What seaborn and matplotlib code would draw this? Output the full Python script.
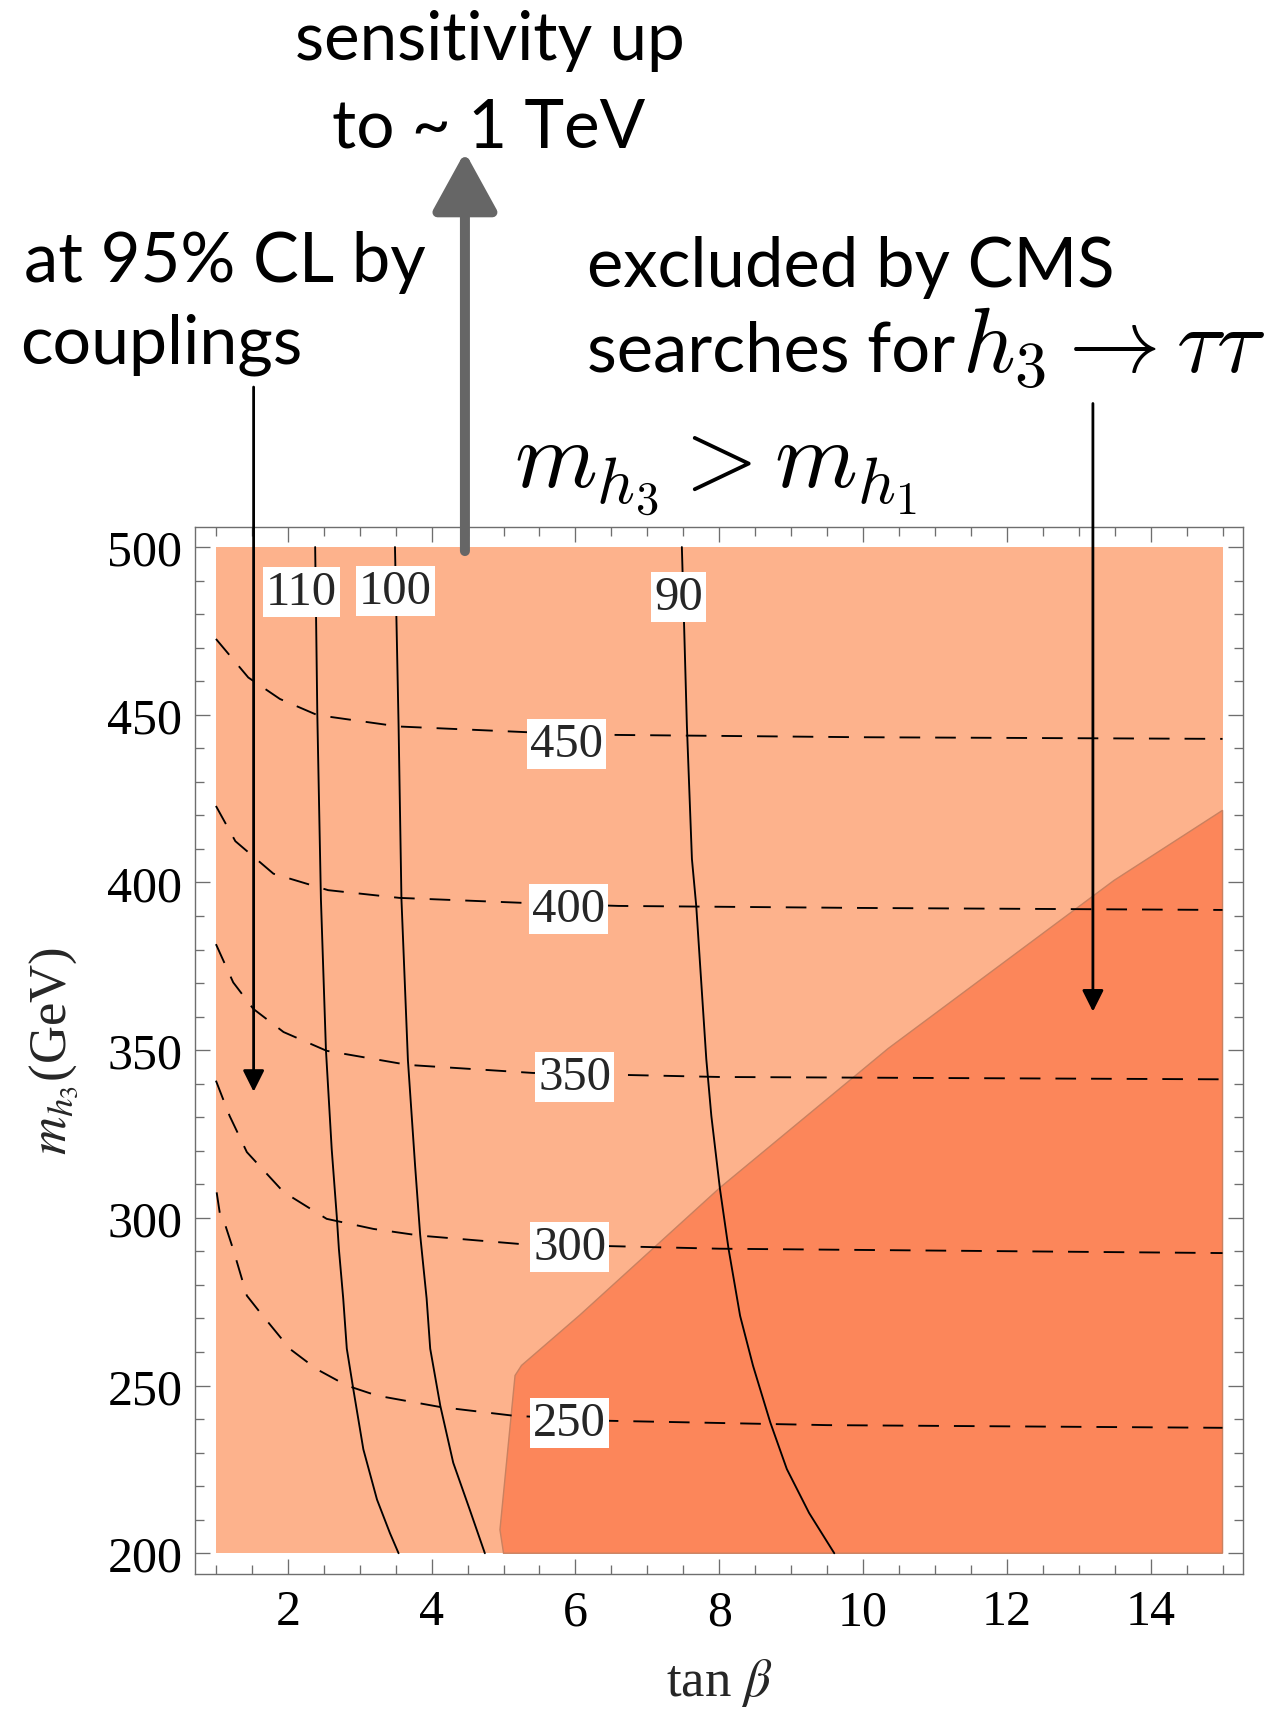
import matplotlib
matplotlib.use("Agg")
import matplotlib.pyplot as plt
from matplotlib.ticker import MultipleLocator, FixedLocator
import numpy as np
import pandas as pd
import seaborn as sns

# ---------------- data ----------------
tanb_range = [1.0, 15.0]
mh3_low, mh3_high = 200.0, 500.0

# region excluded by CMS h3 -> tau tau
excl_tanb = [5.00, 4.95, 5.16, 5.25, 6.06, 8.01, 10.35, 13.49, 15.0, 15.0]
excl_mh3 = [200.0, 207.0, 253.0, 256.0, 271.0, 309.0, 350.5, 400.6, 421.5, 200.0]

# solid contours
sol110_tanb = [2.38, 2.41, 2.46, 2.53, 2.61, 2.68, 2.71, 2.77, 2.82, 2.91, 3.05, 3.24, 3.42, 3.54]
sol110_mh3 = [500, 450, 395, 350, 320.5, 300.6, 290.7, 276, 261, 249, 231, 216, 206, 200]
sol100_tanb = [3.49, 3.54, 3.58, 3.67, 3.77, 3.84, 3.93, 3.98, 4.12, 4.30, 4.53, 4.74]
sol100_mh3 = [500, 447, 395, 347, 315.5, 295, 276, 261, 244, 227, 213, 200]
sol90_tanb = [7.48, 7.51, 7.55, 7.62, 7.68, 7.82, 7.89, 8.01, 8.13, 8.29, 8.47, 8.71, 8.94, 9.25, 9.60]
sol90_mh3 = [500, 477.5, 446.7, 407, 393, 347.3, 330.4, 308.6, 290.7, 270.8, 255.9, 239, 225.1, 212, 200]

# dashed contours
d450_tanb = [1.0, 1.45, 1.89, 2.41, 3.54, 5.32, 6.48, 9.96, 15.0]
d450_mh3 = [472.6, 461.1, 454.7, 449.9, 446.5, 444.8, 444.0, 443.3, 442.8]
d400_tanb = [1.0, 1.27, 1.8, 2.56, 3.55, 5.4, 6.6, 9.96, 15.0]
d400_mh3 = [422.8, 412.3, 402.6, 397.7, 395.4, 393.8, 393.0, 392.4, 391.8]
d350_tanb = [1.0, 1.24, 1.52, 1.94, 2.54, 3.67, 5.41, 8.0, 15.0]
d350_mh3 = [381.6, 370.2, 362.3, 355.4, 349.8, 345.6, 343.2, 342.0, 341.3]
d300_tanb = [1.0, 1.19, 1.43, 1.94, 2.54, 3.19, 3.84, 5.23, 8.0, 15.0]
d300_mh3 = [340.9, 330.4, 319.6, 307.7, 299.7, 296.7, 294.7, 292.2, 290.8, 289.5]
d250_tanb = [1.01, 1.06, 1.12, 1.15, 1.24, 1.43, 1.61, 2.03, 2.40, 2.82, 3.24, 4.12, 5.14, 6.45, 9.5, 15.0]
d250_mh3 = [307.6, 300.5, 298.5, 296.5, 290.6, 276.8, 271.9, 260.9, 254.9, 250.0, 247.0, 243.6, 241.0, 239.5, 238.2, 237.4]

# contour labels
clabel_text = ["110", "100", "90", "450", "400", "350", "300", "250"]
clabel_tanb = [2.19, 3.50, 7.43, 5.87, 5.90, 5.99, 5.92, 5.92]
clabel_mh3 = [486.6, 486.9, 485.2, 441.3, 392.1, 342.1, 291.4, 238.8]

xticks_major = [2, 4, 6, 8, 10, 12, 14]
yticks_major = [200, 250, 300, 350, 400, 450, 500]

# ---------------- style ----------------
sns.set_theme(style="white")
plt.rcParams["font.family"] = ["Liberation Serif", "DejaVu Serif"]
plt.rcParams["mathtext.fontset"] = "stix"

LIGHT = "#FDB28C"
DARK = "#FC865A"
FRAME = "#6E6E6E"

fig = plt.figure(figsize=(12.75, 17.15), dpi=100)
ax = fig.add_axes([0.1529, 0.0819, 0.8222, 0.6102])
ax.set_facecolor("white")

# regions
ax.fill_between(tanb_range, mh3_low, mh3_high, color=LIGHT, lw=0, zorder=1)
ax.fill(excl_tanb, excl_mh3, facecolor=DARK, edgecolor="#C98160", lw=1.0, zorder=2)

def draw(xs, ys, ls):
    df = pd.DataFrame({"tanb": xs, "mh3": ys})
    sns.lineplot(data=df, x="tanb", y="mh3", sort=False, estimator=None,
                 color="black", lw=1.35, linestyle=ls, ax=ax, zorder=3)

for xs, ys in [(sol110_tanb, sol110_mh3), (sol100_tanb, sol100_mh3), (sol90_tanb, sol90_mh3)]:
    draw(xs, ys, "-")
for xs, ys in [(d450_tanb, d450_mh3), (d400_tanb, d400_mh3), (d350_tanb, d350_mh3),
               (d300_tanb, d300_mh3), (d250_tanb, d250_mh3)]:
    draw(xs, ys, (0, (11, 8)))

for t, x, y in zip(clabel_text, clabel_tanb, clabel_mh3):
    ax.text(x, y, t, ha="center", va="center", fontsize=35, zorder=5,
            bbox=dict(boxstyle="square,pad=0.06", fc="white", ec="none"))

# axes
ax.set_xlim(0.708, 15.288)
ax.set_ylim(193.95, 505.96)
ax.xaxis.set_major_locator(FixedLocator(xticks_major))
ax.yaxis.set_major_locator(FixedLocator(yticks_major))
ax.xaxis.set_minor_locator(MultipleLocator(0.5))
ax.yaxis.set_minor_locator(MultipleLocator(10))
ax.tick_params(which="both", direction="in", top=True, right=True, bottom=True, left=True,
               color=FRAME, width=0.95, labelsize=36, labelcolor="black")
ax.tick_params(which="major", length=10.8)
ax.tick_params(which="minor", length=6.5)
ax.tick_params(axis="x", which="major", pad=11)
ax.tick_params(axis="y", which="major", pad=9)
for s in ax.spines.values():
    s.set_color(FRAME)
    s.set_linewidth(1.0)
    s.set_visible(True)

ax.set_xlabel(r"tan $\beta$", fontsize=38, labelpad=15)
ax.set_ylabel(r"$m_{h_3}$(GeV)", fontsize=38, labelpad=20)

# arrows (annotations)
ax.annotate("", xy=(4.463, 617.8), xytext=(4.463, 498.8), annotation_clip=False,
            arrowprops=dict(arrowstyle="-|>,head_length=1.0,head_width=0.55", mutation_scale=36,
                            lw=7.2, color="#666666", shrinkA=0, shrinkB=0))
ax.annotate("", xy=(1.524, 337.6), xytext=(1.524, 547.7), annotation_clip=False,
            arrowprops=dict(arrowstyle="-|>,head_length=1.0,head_width=0.5", mutation_scale=13,
                            lw=2.0, color="black", shrinkA=0, shrinkB=0))
ax.annotate("", xy=(13.197, 361.5), xytext=(13.197, 542.8), annotation_clip=False,
            arrowprops=dict(arrowstyle="-|>,head_length=1.0,head_width=0.5", mutation_scale=13,
                            lw=2.0, color="black", shrinkA=0, shrinkB=0))

# annotation texts
W, H = 1275.0, 1715.0
def ftext(xpx, ypx, s, ha="left", size=48, math="cm"):
    fig.text(xpx / W, 1 - ypx / H, s, ha=ha, va="baseline", fontsize=size,
             family=["Lato", "DejaVu Sans"], math_fontfamily=math, color="black")

ftext(490, 60, "sensitivity up", ha="center", size=48.5)
ftext(489, 148, "to ~ 1 TeV", ha="center", size=48.5)
ftext(24, 282, "at 95% CL by", size=49.5)
ftext(20, 364, "couplings", size=49)
ftext(587, 287, "excluded by CMS", size=49.5)
ftext(587, 372, "searches for", size=49.5)
ftext(962, 372, r"$h_3 \rightarrow \tau\tau$", size=66)
ftext(514, 487, r"$m_{h_3} > m_{h_1}$", size=68)

fig.savefig("out.png", dpi=100)
